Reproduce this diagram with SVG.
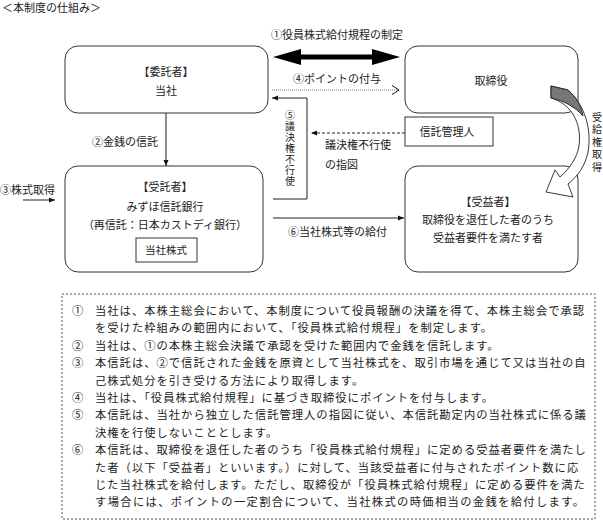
<svg xmlns="http://www.w3.org/2000/svg" width="603" height="522" viewBox="0 0 603 522">
<style>
text{font-family:"Noto Sans CJK JP","Noto Sans",sans-serif;fill:#222;}
.t{font-size:11px;}
.c{text-anchor:middle;}
.s{font-size:10.5px;}
.v{font-size:10px;writing-mode:vertical-rl;letter-spacing:1px;}
.box{fill:#fff;stroke:#333;stroke-width:1;}
.ln{fill:none;stroke:#222;stroke-width:1;}
.b{font-size:11.3px;letter-spacing:1px;}
</style>
<defs>
<marker id="ah" viewBox="0 0 6 6" markerWidth="6" markerHeight="6" refX="6" refY="3" orient="auto" markerUnits="userSpaceOnUse"><path d="M0,0.5 L6,3 L0,5.5 Z" fill="#111"/></marker>
<marker id="op" viewBox="0 0 8 10" markerWidth="8" markerHeight="10" refX="7" refY="5" orient="auto" markerUnits="userSpaceOnUse"><path d="M0,0.5 L7,5 L0,9.5" fill="none" stroke="#111" stroke-width="1"/></marker>
</defs>
<rect width="603" height="522" fill="#fff"/>
<text class="t" x="2" y="12">＜本制度の仕組み＞</text>

<g id="connectors">
<polygon points="273,57 301,49 301,54.5 372,54.5 372,49 400,57 372,65 372,59.5 301,59.5 301,65" fill="#000"/>
<text class="t c" x="337" y="39">①役員株式給付規程の制定</text>
<line x1="272" y1="90" x2="399" y2="90" stroke="#777" stroke-width="1" stroke-dasharray="1,1" marker-end="url(#op)"/>
<text class="t c" x="337" y="83">④ポイントの付与</text>
<line class="ln" x1="166" y1="113" x2="166" y2="166" marker-end="url(#ah)"/>
<text class="t" x="92" y="146">②金銭の信託</text>
<line class="ln" x1="23" y1="200" x2="55" y2="200" marker-end="url(#ah)"/>
<text class="t" x="0" y="194">③株式取得</text>
<polyline class="ln" points="273,199 307,199 307,98 272,98" marker-end="url(#ah)"/>
<text class="v" x="290" y="110">⑤議決権不行使</text>
<line class="ln" x1="405" y1="133" x2="311" y2="133" stroke-dasharray="3,2" marker-end="url(#ah)"/>
<text class="t" x="325" y="149">議決権不行使</text>
<text class="t" x="325" y="169">の指図</text>
<line class="ln" x1="273" y1="218" x2="404" y2="218" marker-end="url(#ah)"/>
<text class="t" x="288" y="236">⑥当社株式等の給付</text>
<text class="v" x="597" y="112" style="letter-spacing:2.5px">受給権取得</text>
</g>

<g id="itakusha">
<rect class="box" x="65" y="46" width="203" height="67" rx="13"/>
<text class="t c" x="166" y="76">【委託者】</text>
<text class="t c" x="166" y="95">当社</text>
</g>
<g id="torishimariyaku">
<rect class="box" x="405" y="46" width="173" height="67" rx="13"/>
<text class="t c" x="491" y="85">取締役</text>
</g>
<g id="shintakukanrinin">
<rect class="box" x="405" y="117" width="88" height="29"/>
<text class="t c" x="447" y="136">信託管理人</text>
</g>
<g id="jutakusha">
<rect class="box" x="65" y="166" width="198" height="106" rx="13"/>
<text class="t c" x="165" y="191">【受託者】</text>
<text class="t c" x="165" y="211">みずほ信託銀行</text>
<text class="t c" x="165" y="229">（再信託：日本カストディ銀行）</text>
<rect class="box" x="136" y="238" width="61" height="24"/>
<text class="s c" x="166" y="254">当社株式</text>
</g>
<g id="jueki">
<rect class="box" x="405" y="166" width="173" height="106" rx="13"/>
<text class="t c" x="488" y="206">【受益者】</text>
<text class="t c" x="488" y="224">取締役を退任した者のうち</text>
<text class="t c" x="488" y="242">受益者要件を満たす者</text>
</g>

<g id="curved-arrow">
<path d="M551,86 L568,90 C585,105 592,130 588,152 C585,166 578,176 568,184 L573,197 L546,192 L555,170 L560,177 C570,168 577,158 579,146 C582,124 572,104 551,98 Z" fill="#fff" stroke="#222" stroke-width="0.9"/>
<path d="M551,86 L568,90 C576,97 581,105 583,116 C575,107 565,101 551,98 Z" fill="#777" stroke="#222" stroke-width="0.9"/>
</g>

<g id="notes">
<rect x="62" y="294" width="533" height="225" fill="none" stroke="#555" stroke-width="1" stroke-dasharray="2,2"/>
<g class="b">
<text x="72" y="315">①</text><text x="95" y="315">当社は、本株主総会において、本制度について役員報酬の決議を得て、本株主総会で承認</text>
<text x="95" y="332.4">を受けた枠組みの範囲内において、「役員株式給付規程」を制定します。</text>
<text x="72" y="349.8">②</text><text x="95" y="349.8">当社は、①の本株主総会決議で承認を受けた範囲内で金銭を信託します。</text>
<text x="72" y="367.2">③</text><text x="95" y="367.2">本信託は、②で信託された金銭を原資として当社株式を、取引市場を通じて又は当社の自</text>
<text x="95" y="384.6">己株式処分を引き受ける方法により取得します。</text>
<text x="72" y="402">④</text><text x="95" y="402">当社は、「役員株式給付規程」に基づき取締役にポイントを付与します。</text>
<text x="72" y="419.4">⑤</text><text x="95" y="419.4">本信託は、当社から独立した信託管理人の指図に従い、本信託勘定内の当社株式に係る議</text>
<text x="95" y="436.8">決権を行使しないこととします。</text>
<text x="72" y="454.2">⑥</text><text x="95" y="454.2">本信託は、取締役を退任した者のうち「役員株式給付規程」に定める受益者要件を満たし</text>
<text x="95" y="471.6">た者（以下「受益者」といいます。）に対して、当該受益者に付与されたポイント数に応</text>
<text x="95" y="489">じた当社株式を給付します。ただし、取締役が「役員株式給付規程」に定める要件を満た</text>
<text x="95" y="506.4" textLength="490" lengthAdjust="spacing">す場合には、ポイントの一定割合について、当社株式の時価相当の金銭を給付します。</text>
</g>
</g>
</svg>
